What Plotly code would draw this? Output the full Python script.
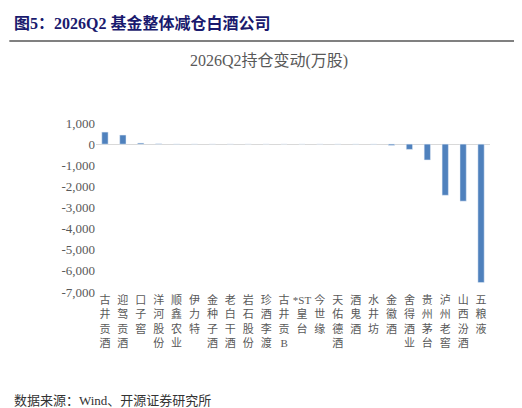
import plotly.graph_objects as go

companies = ["古井贡酒", "迎驾贡酒", "口子窖", "洋河股份", "顺鑫农业", "伊力特", "金种子酒",
             "老白干酒", "岩石股份", "珍酒李渡", "古井贡B", "*ST皇台", "今世缘", "天佑德酒",
             "酒鬼酒", "水井坊", "金徽酒", "舍得酒业", "贵州茅台", "泸州老窖", "山西汾酒", "五粮液"]
change = [570, 430, 50, 15, 5, 3, 2, 2, 1, 1, 1, 0, -2, -3, -5, -8, -60, -250, -750, -2420, -2700, -6550]


def stack(name):
    # 竖排标签：汉字逐字换行，英文字母连在一起
    parts, buf = [], ""
    for ch in name:
        if ch.isascii():
            buf += ch
        else:
            if buf:
                parts.append(buf)
                buf = ""
            parts.append(ch)
    if buf:
        parts.append(buf)
    return "<br>".join(parts)


labels = [stack(c) for c in companies]
ticks = list(range(-7000, 1001, 1000))

fig = go.Figure(go.Bar(x=labels, y=change, marker_color="#4f81bd", width=0.35))

fig.update_layout(
    width=522, height=408,
    margin=dict(l=88, r=40, t=115, b=124),
    plot_bgcolor="white", paper_bgcolor="white",
    font=dict(family="Liberation Serif, Noto Sans CJK SC", color="#595959", size=13),
    showlegend=False,
    title=dict(text="2026Q2持仓变动(万股)", x=0.5, xanchor="center", y=0.885,
               font=dict(size=16, color="#595959")),
    xaxis=dict(showline=False, ticks="", tickangle=0,
               tickfont=dict(size=11, color="#595959")),
    yaxis=dict(range=[-7000, 1000], tickvals=ticks,
               ticktext=[f"{v:,}" for v in ticks], showgrid=False,
               zeroline=True, zerolinecolor="#d9d9d9", zerolinewidth=1,
               tickfont=dict(size=13)),
)

fig.add_annotation(text="<b>图5：2026Q2 基金整体减仓白酒公司</b>", xref="paper", yref="paper",
                   x=0, y=1, xanchor="left", yanchor="middle", showarrow=False,
                   font=dict(size=16, color="#1a1a6e", family="Liberation Serif, Noto Sans CJK SC"),
                   xshift=-84, yshift=100)
fig.add_shape(type="line", xref="paper", yref="paper", ysizemode="pixel", yanchor=1,
              x0=-0.22, x1=1.1, y0=82, y1=82, line=dict(color="#808080", width=2))
fig.add_annotation(text="数据来源：Wind、开源证券研究所", xref="paper", yref="paper",
                   x=0, y=0, xanchor="left", yanchor="middle", showarrow=False,
                   font=dict(size=13, color="#333333"), xshift=-84, yshift=-108)

fig.write_html("out.html")
